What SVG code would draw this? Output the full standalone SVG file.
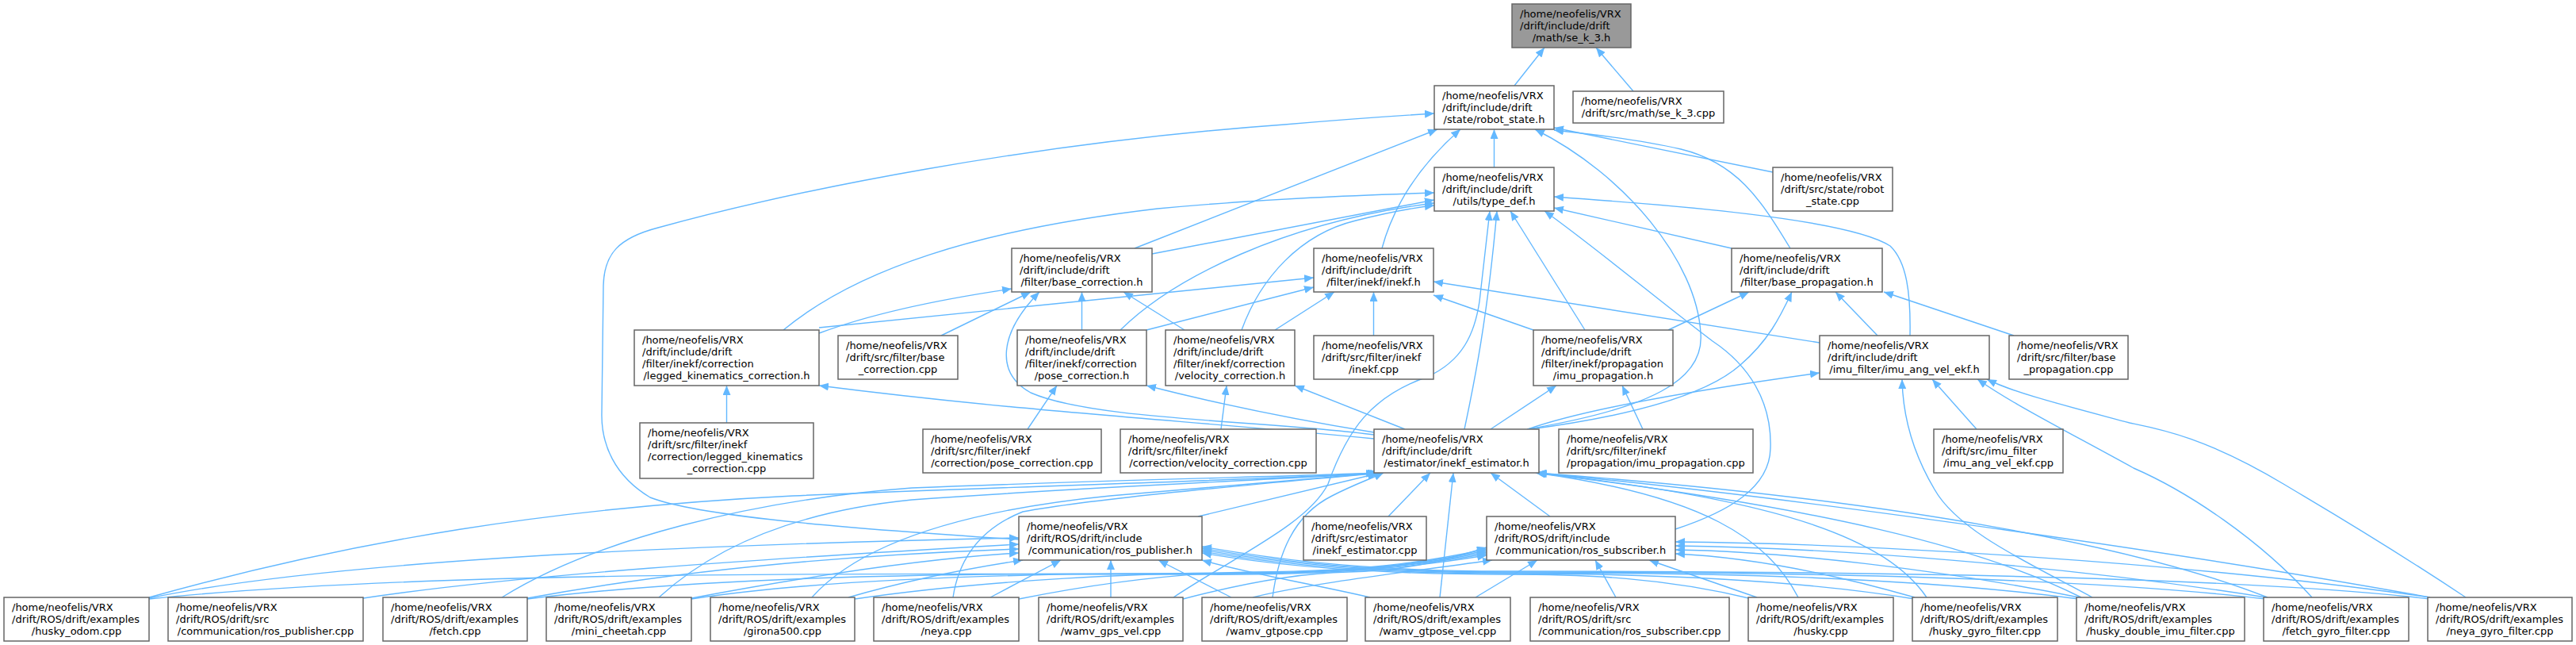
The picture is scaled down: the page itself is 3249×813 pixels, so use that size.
<svg xmlns="http://www.w3.org/2000/svg" width="3249" height="813" viewBox="0 0 3249 813">
<style>
.n rect{fill:#ffffff;stroke:#666666;stroke-width:1.5}
.n.h rect{fill:#999999}
.e path{fill:none;stroke:#63b8ff;stroke-width:1.4;marker-end:url(#a)}
text{font-family:"DejaVu Sans","Liberation Sans",sans-serif;font-size:13px;fill:#000000}
.m{text-anchor:middle}
</style>
<defs>
<marker id="a" viewBox="0 0 12 10" refX="12" refY="5" markerWidth="12" markerHeight="10" markerUnits="userSpaceOnUse" orient="auto">
<path d="M0,0 L12,5 L0,10 z" fill="#63b8ff"/>
</marker>
</defs>
<rect x="0" y="0" width="3249" height="813" fill="#ffffff"/>
<g id="connectors" class="e">
<path d="M1910,108 L1948,60"/>
<path d="M2060,115 L2013,60"/>
<path d="M1884.5,211 L1884.5,163"/>
<path d="M2236,217 L1960,161"/>
<path d="M2258,313 C2220,250 2190,205 2120,188 C2060,174 1995,168 1960,164"/>
<path d="M1743,313 C1760,250 1800,200 1842,163"/>
<path d="M1431,313 L1813,163"/>
<path d="M1926,541 C2080,515 2150,480 2145,420 C2140,330 2050,220 1936,163"/>
<path d="M1285,680 C1050,665 880,650 820,627 C775,600 758,560 759,520 L761,360 C762,320 780,300 830,287 C1000,240 1300,180 1620,157 C1700,150 1760,146 1809,143"/>
<path d="M988,416 C1080,340 1230,290 1460,263 C1600,250 1720,246 1809,243"/>
<path d="M1453,320 L1809,252"/>
<path d="M1413,416 C1480,350 1620,280 1809,256"/>
<path d="M1566,416 C1590,350 1640,295 1710,278 C1750,268 1780,262 1809,259"/>
<path d="M1480,753 C1560,700 1650,660 1675,610 C1700,540 1730,500 1800,475 C1845,455 1860,420 1866,380 L1879,266"/>
<path d="M1847,541 C1860,480 1876,400 1888,266"/>
<path d="M1999,416 L1905,266"/>
<path d="M2113,667 C2180,645 2232,615 2233,565 C2235,505 2205,460 2160,430 C2100,385 2010,310 1948,266"/>
<path d="M2184,313 L1960,262"/>
<path d="M2409,423 C2410,370 2405,330 2384,310 C2330,275 2100,258 1960,248"/>
<path d="M1033,413 L1657,350"/>
<path d="M1446,416 L1657,362"/>
<path d="M1608,416 L1683,368"/>
<path d="M1732.5,423 L1732.5,368"/>
<path d="M2295,432 L1808,355"/>
<path d="M1934,416 L1808,372"/>
<path d="M1033,420 C1100,395 1180,378 1276,364"/>
<path d="M1187,423 L1300,368"/>
<path d="M1733,548 C1600,530 1380,530 1300,495 C1255,470 1260,420 1311,368"/>
<path d="M1364.5,416 L1364.5,368"/>
<path d="M1494,416 L1417,368"/>
<path d="M916.5,533 L916.5,486"/>
<path d="M1733,553 C1500,530 1300,520 1033,486"/>
<path d="M1296,541 L1333,486"/>
<path d="M1733,545 C1640,530 1540,510 1446,486"/>
<path d="M1540,541 L1547,486"/>
<path d="M1772,541 L1633,486"/>
<path d="M1880,541 L1963,486"/>
<path d="M2072,541 L2046,486"/>
<path d="M2104,416 L2206,368"/>
<path d="M1930,541 C2050,525 2150,500 2195,460 C2230,430 2245,400 2260,368"/>
<path d="M2368,423 L2315,368"/>
<path d="M2540,423 L2376,368"/>
<path d="M1927,541 C2000,515 2150,490 2295,470"/>
<path d="M2493,541 L2437,478"/>
<path d="M2639,753 C2560,710 2470,670 2440,617 C2415,575 2400,530 2399,478"/>
<path d="M2916,753 C2850,680 2760,620 2691,590 C2600,540 2540,510 2494,478"/>
<path d="M3110,753 C3000,680 2930,640 2880,610 C2780,550 2720,540 2686,533 C2600,510 2540,495 2506,478"/>
<path d="M188,753 C450,680 700,640 1000,625 C1300,612 1600,605 1735,596"/>
<path d="M633,753 C750,680 950,630 1150,615 C1400,605 1650,600 1737,596"/>
<path d="M831,753 C900,690 1000,645 1150,630 C1400,612 1650,603 1738,596"/>
<path d="M1024,753 C1080,690 1200,645 1400,625 C1550,612 1680,602 1740,596"/>
<path d="M1202,753 C1210,700 1240,665 1290,645 C1400,625 1650,605 1741,596"/>
<path d="M1605,753 C1612,700 1630,650 1680,625 C1705,612 1725,605 1745,596"/>
<path d="M1511,651 L1737,597"/>
<path d="M1751,651 L1804,596"/>
<path d="M1955,651 L1880,596"/>
<path d="M1816,753 L1833,596"/>
<path d="M2268,753 C2230,680 2150,625 1937,596"/>
<path d="M2430,753 C2380,680 2250,630 1937,596"/>
<path d="M2625,753 C2500,690 2300,640 1938,596"/>
<path d="M2860,753 C2700,690 2400,630 1938,596"/>
<path d="M3065,753 C2800,705 2300,630 1939,596"/>
<path d="M188,754 C400,710 800,688 1285,678"/>
<path d="M458,754 C650,725 950,705 1285,686"/>
<path d="M665,754 C850,720 1050,700 1285,692"/>
<path d="M872,754 C1000,730 1150,705 1285,697"/>
<path d="M1070,753 C1150,730 1230,715 1290,706"/>
<path d="M1249,753 L1338,706"/>
<path d="M1401,753 L1401,706"/>
<path d="M1553,753 L1461,706"/>
<path d="M1728,753 C1650,735 1570,722 1516,706"/>
<path d="M2210,755 C2100,728 2000,724 1900,724 C1700,724 1580,708 1516,697"/>
<path d="M2415,755 C2250,728 2050,723 1900,723 C1700,723 1580,706 1516,695"/>
<path d="M2622,755 C2400,726 2150,722 1900,722 C1700,722 1580,704 1516,693"/>
<path d="M2858,755 C2600,725 2200,721 1900,721 C1700,721 1580,702 1516,691"/>
<path d="M3065,755 C2800,724 2250,720 1900,720 C1700,720 1580,700 1516,689"/>
<path d="M188,755 C500,722 1000,722 1500,724 C1700,726 1800,712 1875,700"/>
<path d="M665,755 C900,726 1200,722 1520,723 C1710,724 1805,710 1875,698"/>
<path d="M872,755 C1050,728 1300,722 1540,723 C1720,723 1810,708 1875,696"/>
<path d="M1078,755 C1250,730 1450,722 1560,722 C1730,722 1815,706 1875,694"/>
<path d="M1285,755 C1400,732 1500,722 1580,721 C1740,720 1820,704 1875,692"/>
<path d="M1492,755 C1580,732 1650,722 1700,721 C1780,719 1830,704 1875,690"/>
<path d="M1580,753 C1650,735 1800,718 1882,706"/>
<path d="M1861,753 L1939,706"/>
<path d="M2038,753 L2012,706"/>
<path d="M2216,753 L2080,706"/>
<path d="M2415,753 C2300,720 2200,702 2113,698"/>
<path d="M2622,753 C2450,718 2250,695 2113,693"/>
<path d="M2858,753 C2600,712 2300,690 2113,688"/>
<path d="M3065,753 C2750,708 2350,685 2113,683"/>
</g>
<g id="n_se_k_3_h" class="n h"><rect x="1907" y="5" width="150" height="55"/><text x="1917" y="22">/home/neofelis/VRX</text><text x="1917" y="37">/drift/include/drift</text><text class="m" x="1982" y="52">/math/se_k_3.h</text></g>
<g id="n_robot_state_h" class="n"><rect x="1809" y="108" width="151" height="55"/><text x="1819" y="125">/home/neofelis/VRX</text><text x="1819" y="140">/drift/include/drift</text><text class="m" x="1884.5" y="155">/state/robot_state.h</text></g>
<g id="n_se_k_3_cpp" class="n"><rect x="1984" y="115" width="190" height="40"/><text x="1994" y="132">/home/neofelis/VRX</text><text class="m" x="2079" y="147">/drift/src/math/se_k_3.cpp</text></g>
<g id="n_type_def_h" class="n"><rect x="1809" y="211" width="151" height="55"/><text x="1819" y="228">/home/neofelis/VRX</text><text x="1819" y="243">/drift/include/drift</text><text class="m" x="1884.5" y="258">/utils/type_def.h</text></g>
<g id="n_robot_state_cpp" class="n"><rect x="2236" y="211" width="151" height="55"/><text x="2246" y="228">/home/neofelis/VRX</text><text x="2246" y="243">/drift/src/state/robot</text><text class="m" x="2311.5" y="258">_state.cpp</text></g>
<g id="n_inekf_h" class="n"><rect x="1657" y="313" width="151" height="55"/><text x="1667" y="330">/home/neofelis/VRX</text><text x="1667" y="345">/drift/include/drift</text><text class="m" x="1732.5" y="360">/filter/inekf/inekf.h</text></g>
<g id="n_base_propagation_h" class="n"><rect x="2184" y="313" width="190" height="55"/><text x="2194" y="330">/home/neofelis/VRX</text><text x="2194" y="345">/drift/include/drift</text><text class="m" x="2279" y="360">/filter/base_propagation.h</text></g>
<g id="n_base_correction_h" class="n"><rect x="1276" y="313" width="177" height="55"/><text x="1286" y="330">/home/neofelis/VRX</text><text x="1286" y="345">/drift/include/drift</text><text class="m" x="1364.5" y="360">/filter/base_correction.h</text></g>
<g id="n_legged_kinematics_correction_h" class="n"><rect x="800" y="416" width="233" height="70"/><text x="810" y="433">/home/neofelis/VRX</text><text x="810" y="448">/drift/include/drift</text><text x="810" y="463">/filter/inekf/correction</text><text class="m" x="916.5" y="478">/legged_kinematics_correction.h</text></g>
<g id="n_base_correction_cpp" class="n"><rect x="1057" y="423" width="151" height="55"/><text x="1067" y="440">/home/neofelis/VRX</text><text x="1067" y="455">/drift/src/filter/base</text><text class="m" x="1132.5" y="470">_correction.cpp</text></g>
<g id="n_pose_correction_h" class="n"><rect x="1283" y="416" width="163" height="70"/><text x="1293" y="433">/home/neofelis/VRX</text><text x="1293" y="448">/drift/include/drift</text><text x="1293" y="463">/filter/inekf/correction</text><text class="m" x="1364.5" y="478">/pose_correction.h</text></g>
<g id="n_velocity_correction_h" class="n"><rect x="1470" y="416" width="163" height="70"/><text x="1480" y="433">/home/neofelis/VRX</text><text x="1480" y="448">/drift/include/drift</text><text x="1480" y="463">/filter/inekf/correction</text><text class="m" x="1551.5" y="478">/velocity_correction.h</text></g>
<g id="n_legged_kinematics_correction_cpp" class="n"><rect x="807" y="533" width="219" height="70"/><text x="817" y="550">/home/neofelis/VRX</text><text x="817" y="565">/drift/src/filter/inekf</text><text x="817" y="580">/correction/legged_kinematics</text><text class="m" x="916.5" y="595">_correction.cpp</text></g>
<g id="n_pose_correction_cpp" class="n"><rect x="1164" y="541" width="225" height="55"/><text x="1174" y="558">/home/neofelis/VRX</text><text x="1174" y="573">/drift/src/filter/inekf</text><text class="m" x="1276.5" y="588">/correction/pose_correction.cpp</text></g>
<g id="n_velocity_correction_cpp" class="n"><rect x="1413" y="541" width="247" height="55"/><text x="1423" y="558">/home/neofelis/VRX</text><text x="1423" y="573">/drift/src/filter/inekf</text><text class="m" x="1536.5" y="588">/correction/velocity_correction.cpp</text></g>
<g id="n_ros_publisher_h" class="n"><rect x="1285" y="651" width="231" height="55"/><text x="1295" y="668">/home/neofelis/VRX</text><text x="1295" y="683">/drift/ROS/drift/include</text><text class="m" x="1400.5" y="698">/communication/ros_publisher.h</text></g>
<g id="n_inekf_cpp" class="n"><rect x="1657" y="423" width="151" height="55"/><text x="1667" y="440">/home/neofelis/VRX</text><text x="1667" y="455">/drift/src/filter/inekf</text><text class="m" x="1732.5" y="470">/inekf.cpp</text></g>
<g id="n_imu_propagation_h" class="n"><rect x="1934" y="416" width="176" height="70"/><text x="1944" y="433">/home/neofelis/VRX</text><text x="1944" y="448">/drift/include/drift</text><text x="1944" y="463">/filter/inekf/propagation</text><text class="m" x="2022" y="478">/imu_propagation.h</text></g>
<g id="n_imu_ang_vel_ekf_h" class="n"><rect x="2295" y="423" width="214" height="55"/><text x="2305" y="440">/home/neofelis/VRX</text><text x="2305" y="455">/drift/include/drift</text><text class="m" x="2402" y="470">/imu_filter/imu_ang_vel_ekf.h</text></g>
<g id="n_inekf_estimator_h" class="n"><rect x="1733" y="541" width="208" height="55"/><text x="1743" y="558">/home/neofelis/VRX</text><text x="1743" y="573">/drift/include/drift</text><text class="m" x="1837" y="588">/estimator/inekf_estimator.h</text></g>
<g id="n_imu_propagation_cpp" class="n"><rect x="1966" y="541" width="245" height="55"/><text x="1976" y="558">/home/neofelis/VRX</text><text x="1976" y="573">/drift/src/filter/inekf</text><text class="m" x="2088.5" y="588">/propagation/imu_propagation.cpp</text></g>
<g id="n_inekf_estimator_cpp" class="n"><rect x="1644" y="651" width="155" height="55"/><text x="1654" y="668">/home/neofelis/VRX</text><text x="1654" y="683">/drift/src/estimator</text><text class="m" x="1721.5" y="698">/inekf_estimator.cpp</text></g>
<g id="n_ros_subscriber_h" class="n"><rect x="1875" y="651" width="238" height="55"/><text x="1885" y="668">/home/neofelis/VRX</text><text x="1885" y="683">/drift/ROS/drift/include</text><text class="m" x="1994" y="698">/communication/ros_subscriber.h</text></g>
<g id="n_base_propagation_cpp" class="n"><rect x="2534" y="423" width="150" height="55"/><text x="2544" y="440">/home/neofelis/VRX</text><text x="2544" y="455">/drift/src/filter/base</text><text class="m" x="2609" y="470">_propagation.cpp</text></g>
<g id="n_imu_ang_vel_ekf_cpp" class="n"><rect x="2439" y="541" width="163" height="55"/><text x="2449" y="558">/home/neofelis/VRX</text><text x="2449" y="573">/drift/src/imu_filter</text><text class="m" x="2520.5" y="588">/imu_ang_vel_ekf.cpp</text></g>
<g id="n_husky_odom_cpp" class="n"><rect x="5" y="753" width="183" height="55"/><text x="15" y="770">/home/neofelis/VRX</text><text x="15" y="785">/drift/ROS/drift/examples</text><text class="m" x="96.5" y="800">/husky_odom.cpp</text></g>
<g id="n_ros_publisher_cpp" class="n"><rect x="212" y="753" width="246" height="55"/><text x="222" y="770">/home/neofelis/VRX</text><text x="222" y="785">/drift/ROS/drift/src</text><text class="m" x="335" y="800">/communication/ros_publisher.cpp</text></g>
<g id="n_fetch_cpp" class="n"><rect x="483" y="753" width="182" height="55"/><text x="493" y="770">/home/neofelis/VRX</text><text x="493" y="785">/drift/ROS/drift/examples</text><text class="m" x="574" y="800">/fetch.cpp</text></g>
<g id="n_mini_cheetah_cpp" class="n"><rect x="689" y="753" width="183" height="55"/><text x="699" y="770">/home/neofelis/VRX</text><text x="699" y="785">/drift/ROS/drift/examples</text><text class="m" x="780.5" y="800">/mini_cheetah.cpp</text></g>
<g id="n_girona500_cpp" class="n"><rect x="896" y="753" width="182" height="55"/><text x="906" y="770">/home/neofelis/VRX</text><text x="906" y="785">/drift/ROS/drift/examples</text><text class="m" x="987" y="800">/girona500.cpp</text></g>
<g id="n_neya_cpp" class="n"><rect x="1102" y="753" width="183" height="55"/><text x="1112" y="770">/home/neofelis/VRX</text><text x="1112" y="785">/drift/ROS/drift/examples</text><text class="m" x="1193.5" y="800">/neya.cpp</text></g>
<g id="n_wamv_gps_vel_cpp" class="n"><rect x="1310" y="753" width="182" height="55"/><text x="1320" y="770">/home/neofelis/VRX</text><text x="1320" y="785">/drift/ROS/drift/examples</text><text class="m" x="1401" y="800">/wamv_gps_vel.cpp</text></g>
<g id="n_wamv_gtpose_cpp" class="n"><rect x="1516" y="753" width="183" height="55"/><text x="1526" y="770">/home/neofelis/VRX</text><text x="1526" y="785">/drift/ROS/drift/examples</text><text class="m" x="1607.5" y="800">/wamv_gtpose.cpp</text></g>
<g id="n_wamv_gtpose_vel_cpp" class="n"><rect x="1722" y="753" width="183" height="55"/><text x="1732" y="770">/home/neofelis/VRX</text><text x="1732" y="785">/drift/ROS/drift/examples</text><text class="m" x="1813.5" y="800">/wamv_gtpose_vel.cpp</text></g>
<g id="n_ros_subscriber_cpp" class="n"><rect x="1930" y="753" width="251" height="55"/><text x="1940" y="770">/home/neofelis/VRX</text><text x="1940" y="785">/drift/ROS/drift/src</text><text class="m" x="2055.5" y="800">/communication/ros_subscriber.cpp</text></g>
<g id="n_husky_cpp" class="n"><rect x="2205" y="753" width="183" height="55"/><text x="2215" y="770">/home/neofelis/VRX</text><text x="2215" y="785">/drift/ROS/drift/examples</text><text class="m" x="2296.5" y="800">/husky.cpp</text></g>
<g id="n_husky_gyro_filter_cpp" class="n"><rect x="2412" y="753" width="183" height="55"/><text x="2422" y="770">/home/neofelis/VRX</text><text x="2422" y="785">/drift/ROS/drift/examples</text><text class="m" x="2503.5" y="800">/husky_gyro_filter.cpp</text></g>
<g id="n_husky_double_imu_filter_cpp" class="n"><rect x="2619" y="753" width="212" height="55"/><text x="2629" y="770">/home/neofelis/VRX</text><text x="2629" y="785">/drift/ROS/drift/examples</text><text class="m" x="2725" y="800">/husky_double_imu_filter.cpp</text></g>
<g id="n_fetch_gyro_filter_cpp" class="n"><rect x="2855" y="753" width="183" height="55"/><text x="2865" y="770">/home/neofelis/VRX</text><text x="2865" y="785">/drift/ROS/drift/examples</text><text class="m" x="2946.5" y="800">/fetch_gyro_filter.cpp</text></g>
<g id="n_neya_gyro_filter_cpp" class="n"><rect x="3062" y="753" width="182" height="55"/><text x="3072" y="770">/home/neofelis/VRX</text><text x="3072" y="785">/drift/ROS/drift/examples</text><text class="m" x="3153" y="800">/neya_gyro_filter.cpp</text></g>
</svg>
